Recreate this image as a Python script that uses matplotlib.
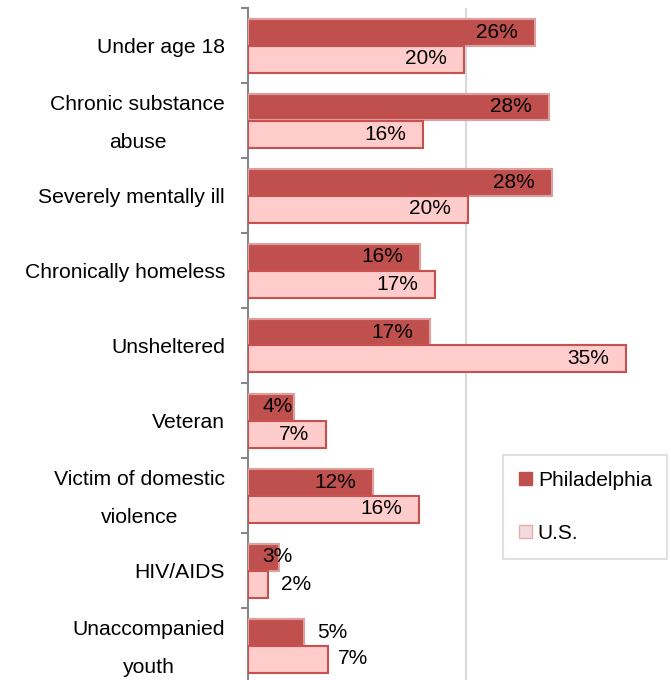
import matplotlib
matplotlib.use("Agg")
import matplotlib.pyplot as plt
from matplotlib.patches import Patch
import numpy as np

plt.rcParams['font.family'] = ['Liberation Sans', 'DejaVu Sans']

categories = ["Under age 18", "Chronic substance\nabuse", "Severely mentally ill",
              "Chronically homeless", "Unsheltered", "Veteran",
              "Victim of domestic\nviolence", "HIV/AIDS", "Unaccompanied\nyouth"]
philadelphia = [26.3, 27.6, 27.9, 15.8, 16.7, 4.2, 11.5, 2.8, 5.1]
us = [19.8, 16.1, 20.2, 17.2, 34.7, 7.2, 15.7, 1.8, 7.3]

PHIL_FILL = "#C0504D"
PHIL_EDGE = "#DE9E9C"
US_FILL = "#FFCCCC"
US_EDGE = "#C9504F"

# label offsets in points: (ha, dx); default is inside the bar end
inside = ("right", -12.2)
phil_lab = [inside] * 5 + [("right", -0.7), inside, ("right", 10), ("left", 9.5)]
us_lab = [inside] * 7 + [("left", 9.5), ("left", 7.5)]

W, H = 671, 680
fig = plt.figure(figsize=(W / 100, H / 100), dpi=100)
ax = fig.add_axes([248 / W, -3 / H, 436 / W, 675 / H])

y = np.arange(len(categories))
bh = 0.36
ax.barh(y - bh / 2, philadelphia, height=bh, color=PHIL_FILL, edgecolor=PHIL_EDGE,
        linewidth=1.5, zorder=3)
ax.barh(y + bh / 2, us, height=bh, color=US_FILL, edgecolor=US_EDGE,
        linewidth=1.5, zorder=3)

for i in range(len(categories)):
    for vals, labs, off in ((philadelphia, phil_lab, -bh / 2), (us, us_lab, bh / 2)):
        ha, dx = labs[i]
        ax.annotate("%d%%" % round(vals[i]), (vals[i], y[i] + off),
                    xytext=(dx, 0), textcoords="offset points",
                    ha=ha, va="center", fontsize=15, color="black", zorder=4)

ax.set_xlim(0, 40)
ax.set_ylim(len(categories) - 0.5, -0.5)
ax.set_xticks([20])
ax.xaxis.grid(True, color="#D9D9D9", linewidth=1.5, zorder=0)
ax.tick_params(axis="x", length=0, labelbottom=False)

# category names drawn as text next to the axis
ax.set_yticks(y)
ax.set_yticklabels([])
for yi, name in zip(y, categories):
    two_lines = "\n" in name
    ax.annotate(name, (0, yi), xycoords=("axes fraction", "data"),
                xytext=(-16.5, -2.2 if two_lines else 0), textcoords="offset points",
                ha="right", va="center" if two_lines else "center_baseline",
                multialignment="center", linespacing=2.25, fontsize=15.2,
                annotation_clip=False)
ax.set_yticks(np.arange(len(categories) + 1) - 0.5, minor=True)
ax.tick_params(axis="y", which="major", length=0)
ax.tick_params(axis="y", which="minor", length=5, width=1.5, color="#868686")

for s in ("top", "right", "bottom"):
    ax.spines[s].set_visible(False)
ax.spines["left"].set_color("#868686")
ax.spines["left"].set_linewidth(1.5)

handles = [Patch(facecolor=PHIL_FILL, edgecolor=PHIL_FILL, label="Philadelphia"),
           Patch(facecolor="#F2DCDB", edgecolor="#E3AEAD", label="U.S.")]
leg = fig.legend(handles=handles, loc="upper left",
                 bbox_to_anchor=(503 / W, 1 - 455 / H), borderaxespad=0,
                 fontsize=15, frameon=True, fancybox=False, borderpad=0.75,
                 labelspacing=1.65, handlelength=0.62, handleheight=0.62,
                 handletextpad=0.3)
leg.get_frame().set_edgecolor("#D9D9D9")
leg.get_frame().set_linewidth(1.5)

fig.savefig("out.png", dpi=100)
